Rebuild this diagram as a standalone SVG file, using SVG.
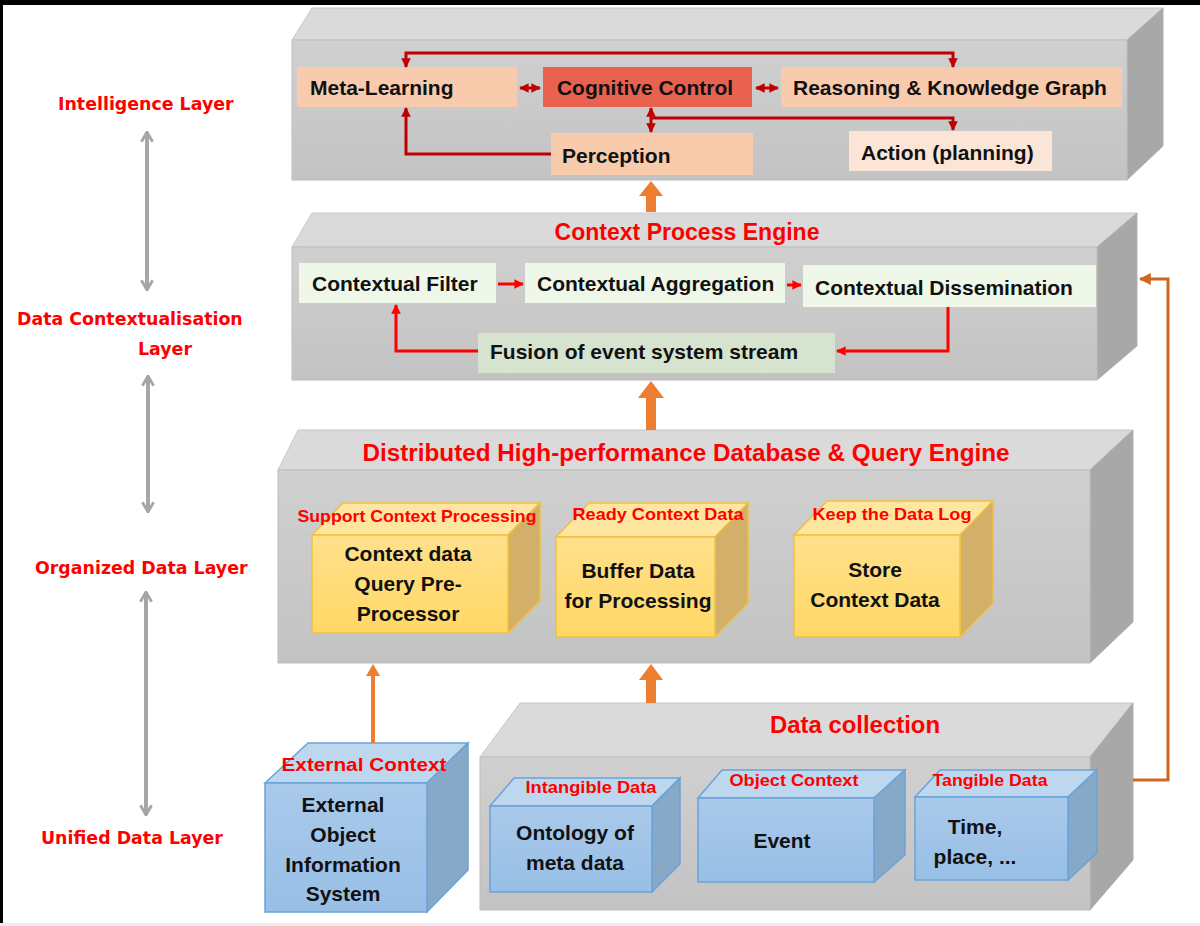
<svg xmlns="http://www.w3.org/2000/svg" width="1200" height="926" viewBox="0 0 1200 926">
<defs>
<linearGradient id="gFront" x1="0" y1="0" x2="0" y2="1"><stop offset="0" stop-color="#d0d0d0"/><stop offset="1" stop-color="#c3c3c3"/></linearGradient>
<linearGradient id="gYel" x1="0" y1="0" x2="0" y2="1"><stop offset="0" stop-color="#ffe08c"/><stop offset="1" stop-color="#ffd865"/></linearGradient>
<linearGradient id="gBlue" x1="0" y1="0" x2="0" y2="1"><stop offset="0" stop-color="#a9c9ea"/><stop offset="1" stop-color="#98bfe6"/></linearGradient>
<marker id="mDR" viewBox="0 0 10 10" refX="9" refY="5" markerWidth="3.2" markerHeight="3.2" orient="auto-start-reverse"><path d="M0,0 L10,5 L0,10 Z" fill="#c00000"/></marker>
<marker id="mR" viewBox="0 0 10 10" refX="9" refY="5" markerWidth="3.2" markerHeight="3.2" orient="auto-start-reverse"><path d="M0,0 L10,5 L0,10 Z" fill="#ff0000"/></marker>
<marker id="mO" viewBox="0 0 10 10" refX="9" refY="5" markerWidth="4" markerHeight="4" orient="auto-start-reverse"><path d="M0,0 L10,5 L0,10 Z" fill="#d0661f"/></marker>
<marker id="mG" viewBox="0 0 10 10" refX="9" refY="5" markerWidth="3.5" markerHeight="3.5" orient="auto-start-reverse"><path d="M2,1 L9,5 L2,9" fill="none" stroke="#a6a6a6" stroke-width="2"/></marker>
<style>
.front{fill:url(#gFront);stroke:#bdbdbd;stroke-width:1}
.top{fill:#dadada;stroke:#c8c8c8;stroke-width:1}
.side{fill:#a8a8a8;stroke:#b0b0b0;stroke-width:1}
.yf{fill:url(#gYel);stroke:#f0c040;stroke-width:1.5}
.yt{fill:#ffe6a0;stroke:#f0c040;stroke-width:1.5}
.ys{fill:#d2b06a;stroke:#f0c040;stroke-width:1.5}
.bf{fill:url(#gBlue);stroke:#6aa3d8;stroke-width:1.5}
.bt{fill:#bdd7ee;stroke:#6aa3d8;stroke-width:1.5}
.bs{fill:#88a8c8;stroke:#6aa3d8;stroke-width:1.5}
.t{font-family:"Liberation Sans",Arial,sans-serif;font-weight:bold;font-size:21px;fill:#111}
.tc{font-family:"Liberation Sans",Arial,sans-serif;font-weight:bold;font-size:21px;fill:#111;text-anchor:middle}
.rt{font-family:"Liberation Sans",Arial,sans-serif;font-weight:bold;font-size:23px;fill:#ff0000;text-anchor:middle}
.rs{font-family:"Liberation Sans",Arial,sans-serif;font-weight:bold;font-size:17px;fill:#ff0000;text-anchor:middle}
.lab{font-family:"DejaVu Sans",Verdana,sans-serif;font-weight:bold;font-size:17.4px;fill:#ff0000}
.dr{fill:none;stroke:#c00000;stroke-width:3}
.rr{fill:none;stroke:#ff0000;stroke-width:3}
.gr{fill:none;stroke:#a6a6a6;stroke-width:4}
.peach{fill:#f8cbad}
.orange{fill:#ed7d31}
</style>
</defs>
<rect x="0" y="0" width="1200" height="926" fill="#ffffff"/>
<rect x="0" y="0" width="1200" height="5" fill="#000"/>
<rect x="0" y="0" width="3" height="926" fill="#000"/>
<rect x="0" y="923" width="1200" height="3" fill="#ececec"/>

<g id="side-labels">
<text class="lab" x="58" y="110">Intelligence Layer</text>
<text class="lab" x="17" y="325">Data Contextualisation</text>
<text class="lab" x="138" y="355">Layer</text>
<text class="lab" x="35" y="574">Organized Data Layer</text>
<text class="lab" x="41" y="844">Unified Data Layer</text>
</g>

<g id="intelligence-layer">
<path class="top" d="M292,40 L312,8 L1163,8 L1127,40 Z"/>
<path class="side" d="M1127,40 L1163,8 L1163,146 L1127,180 Z"/>
<rect class="front" x="292" y="40" width="835" height="140"/>
</g>
<g id="meta-learning"><rect class="peach" x="297" y="67" width="220" height="40"/><text class="t" x="310" y="95">Meta-Learning</text></g>
<g id="cognitive-control"><rect x="543" y="67" width="209" height="40" fill="#e8624f"/><text class="tc" x="645" y="95">Cognitive Control</text></g>
<g id="reasoning"><rect class="peach" x="781" y="67" width="341" height="40"/><text class="t" x="793" y="95">Reasoning &amp; Knowledge Graph</text></g>
<g id="perception"><rect class="peach" x="551" y="133" width="202" height="42"/><text class="t" x="562" y="163">Perception</text></g>
<g id="action"><rect x="849" y="131" width="203" height="40" fill="#fbe5d6"/><text class="t" x="861" y="160">Action (planning)</text></g>

<g id="context-process-engine">
<path class="top" d="M292,247 L312,213 L1137,213 L1097,247 Z"/>
<path class="side" d="M1097,247 L1137,213 L1137,346 L1097,380 Z"/>
<rect class="front" x="292" y="247" width="805" height="133"/>
<text class="rt" x="687" y="240" textLength="265" lengthAdjust="spacingAndGlyphs">Context Process Engine</text>
</g>
<g id="contextual-filter"><rect x="299" y="263" width="197" height="40" fill="#eef7e8"/><text class="t" x="312" y="291">Contextual Filter</text></g>
<g id="contextual-aggregation"><rect x="525" y="263" width="260" height="40" fill="#eef7e8"/><text class="t" x="537" y="291">Contextual Aggregation</text></g>
<g id="contextual-dissemination"><rect x="803" y="265" width="293" height="42" fill="#eef7e8"/><text class="t" x="815" y="295">Contextual Dissemination</text></g>
<g id="fusion"><rect x="478" y="333" width="357" height="40" fill="#d5e3cf"/><text class="t" x="490" y="359">Fusion of event system stream</text></g>

<g id="database-engine">
<path class="top" d="M278,470 L298,430 L1133,430 L1090,470 Z"/>
<path class="side" d="M1090,470 L1133,430 L1133,622 L1090,663 Z"/>
<rect class="front" x="278" y="470" width="812" height="193"/>
<text class="rt" x="686" y="461" textLength="647" lengthAdjust="spacingAndGlyphs">Distributed High-performance Database &amp; Query Engine</text>
</g>
<g id="query-preprocessor">
<path class="yt" d="M312,535 L343,503 L540,503 L508,535 Z"/>
<path class="ys" d="M508,535 L540,503 L540,601 L508,633 Z"/>
<rect class="yf" x="312" y="535" width="196" height="98"/>
<text class="rs" x="417" y="522" textLength="239" lengthAdjust="spacingAndGlyphs">Support Context Processing</text>
<text class="tc" x="408" y="561">Context data</text>
<text class="tc" x="408" y="591">Query Pre-</text>
<text class="tc" x="408" y="621">Processor</text>
</g>
<g id="buffer-data">
<path class="yt" d="M556,537 L589,503 L748,503 L715,537 Z"/>
<path class="ys" d="M715,537 L748,503 L748,603 L715,637 Z"/>
<rect class="yf" x="556" y="537" width="159" height="100"/>
<text class="rs" x="658" y="520" textLength="171" lengthAdjust="spacingAndGlyphs">Ready Context Data</text>
<text class="tc" x="638" y="578">Buffer Data</text>
<text class="tc" x="638" y="608">for Processing</text>
</g>
<g id="store-context">
<path class="yt" d="M794,535 L827,501 L993,501 L960,535 Z"/>
<path class="ys" d="M960,535 L993,501 L993,603 L960,637 Z"/>
<rect class="yf" x="794" y="535" width="166" height="102"/>
<text class="rs" x="892" y="520" textLength="159" lengthAdjust="spacingAndGlyphs">Keep the Data Log</text>
<text class="tc" x="875" y="577">Store</text>
<text class="tc" x="875" y="607">Context Data</text>
</g>

<g id="data-collection">
<path class="top" d="M480,757 L520,703 L1133,703 L1090,757 Z"/>
<path class="side" d="M1090,757 L1133,703 L1133,860 L1090,910 Z"/>
<rect class="front" x="480" y="757" width="610" height="153"/>
<text class="rt" x="855" y="733" textLength="170" lengthAdjust="spacingAndGlyphs">Data collection</text>
</g>
<g id="external-context">
<path class="bt" d="M265,783 L308,743 L468,743 L427,783 Z"/>
<path class="bs" d="M427,783 L468,743 L468,870 L427,912 Z"/>
<rect class="bf" x="265" y="783" width="162" height="129"/>
<text class="rs" x="364" y="771" style="font-size:19px" textLength="165" lengthAdjust="spacingAndGlyphs">External Context</text>
<text class="tc" x="343" y="812">External</text>
<text class="tc" x="343" y="842">Object</text>
<text class="tc" x="343" y="872">Information</text>
<text class="tc" x="343" y="901">System</text>
</g>
<g id="intangible-data">
<path class="bt" d="M490,806 L514,778 L680,778 L652,806 Z"/>
<path class="bs" d="M652,806 L680,778 L680,864 L652,892 Z"/>
<rect class="bf" x="490" y="806" width="162" height="86"/>
<text class="rs" x="591" y="793" textLength="131" lengthAdjust="spacingAndGlyphs">Intangible Data</text>
<text class="tc" x="575" y="840">Ontology of</text>
<text class="tc" x="575" y="870">meta data</text>
</g>
<g id="object-context">
<path class="bt" d="M698,798 L722,770 L905,770 L874,798 Z"/>
<path class="bs" d="M874,798 L905,770 L905,855 L874,882 Z"/>
<rect class="bf" x="698" y="798" width="176" height="84"/>
<text class="rs" x="794" y="786" textLength="129" lengthAdjust="spacingAndGlyphs">Object Context</text>
<text class="tc" x="782" y="848">Event</text>
</g>
<g id="tangible-data">
<path class="bt" d="M915,797 L940,770 L1097,770 L1068,797 Z"/>
<path class="bs" d="M1068,797 L1097,770 L1097,853 L1068,880 Z"/>
<rect class="bf" x="915" y="797" width="153" height="83"/>
<text class="rs" x="990" y="786" textLength="115" lengthAdjust="spacingAndGlyphs">Tangible Data</text>
<text class="tc" x="975" y="834">Time,</text>
<text class="tc" x="975" y="864">place, ...</text>
</g>

<g id="connectors">
<line class="gr" x1="147" y1="132" x2="147" y2="290" marker-start="url(#mG)" marker-end="url(#mG)"/>
<line class="gr" x1="148" y1="376" x2="148" y2="512" marker-start="url(#mG)" marker-end="url(#mG)"/>
<line class="gr" x1="146" y1="592" x2="146" y2="815" marker-start="url(#mG)" marker-end="url(#mG)"/>

<path class="dr" d="M406,67 V53 H953 V67" marker-start="url(#mDR)" marker-end="url(#mDR)"/>
<line class="dr" x1="520" y1="88" x2="540" y2="88" marker-start="url(#mDR)" marker-end="url(#mDR)"/>
<line class="dr" x1="756" y1="88" x2="778" y2="88" marker-start="url(#mDR)" marker-end="url(#mDR)"/>
<line class="dr" x1="651" y1="108" x2="651" y2="132" marker-start="url(#mDR)" marker-end="url(#mDR)"/>
<path class="dr" d="M651,118 H953 V130" marker-end="url(#mDR)"/>
<path class="dr" d="M551,154 H406 V108" marker-end="url(#mDR)"/>

<path class="rr" d="M498,284 H523" marker-end="url(#mR)"/>
<path class="rr" d="M787,285 H801" marker-end="url(#mR)"/>
<path class="rr" d="M948,307 V351 H837" marker-end="url(#mR)"/>
<path class="rr" d="M478,351 H396 V305" marker-end="url(#mR)"/>

<path class="orange" d="M646,212 V196 H639 L651,181 L663,196 H656 V212 Z"/>
<path class="orange" d="M646,430 V398 H638 L651,381 L664,398 H656 V430 Z"/>
<path class="orange" d="M646,703 V680 H639 L651,664 L663,680 H656 V703 Z"/>
<path class="orange" d="M371,743 V676 H366 L373,664 L380,676 H375 V743 Z"/>
<path d="M1133,780 H1168 V279 H1140" fill="none" stroke="#d0661f" stroke-width="3" marker-end="url(#mO)"/>
</g>
</svg>
